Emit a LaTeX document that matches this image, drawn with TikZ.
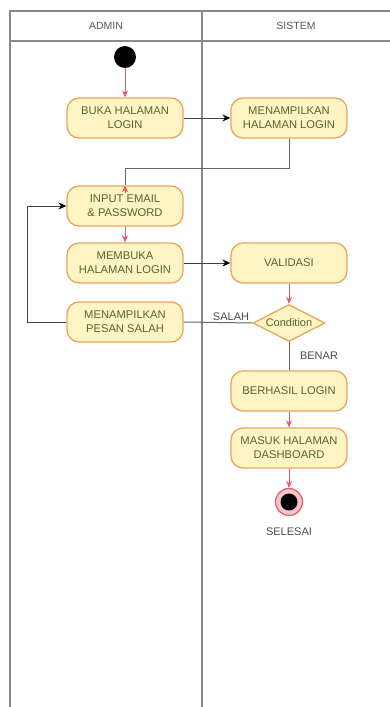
\documentclass[tikz,border=0pt]{standalone}
\usepackage{fontspec}
\setmainfont{Liberation Sans}
\usetikzlibrary{arrows.meta,shapes.geometric}
\definecolor{boxfill}{HTML}{FFF4C4}
\definecolor{boxline}{HTML}{E8A65C}
\definecolor{boxtext}{HTML}{56662A}
\definecolor{flowred}{HTML}{E25A66}
\definecolor{lanegray}{HTML}{8A8A8A}
\tikzset{
    activity/.style={draw=boxline, fill=boxfill, line width=1.3pt, rounded corners=12pt,
        minimum width=116pt, minimum height=40pt, align=center, text=boxtext,
        font=\fontsize{11.2}{14}\selectfont},
    decision/.style={diamond, aspect=1.95, draw=boxline, fill=boxfill, line width=1.3pt,
        minimum width=72pt, minimum height=37pt, inner sep=1pt, text=boxtext,
        font=\fontsize{11}{12}\selectfont},
    lanelabel/.style={text=black!65, font=\fontsize{10.5}{12}\selectfont},
    guard/.style={text=black!70, font=\fontsize{11}{12}\selectfont},
    redflow/.style={draw=flowred, line width=1pt, -{Stealth[length=7pt,width=6pt]}},
    darkflow/.style={draw=black!75, line width=1pt, -{Stealth[length=8pt,width=7pt,color=black]}},
    plainflow/.style={draw=black!60, line width=1pt}
}
\begin{document}
\begin{tikzpicture}[x=1pt, y=-1pt]
    \useasboundingbox (0, 0) rectangle (390, 707);
    % swimlanes
    \draw[lanegray, line width=1.8pt] (390, 11) -- (10, 11) -- (10, 707);
    \draw[lanegray, line width=1.8pt] (10, 41) -- (390, 41);
    \draw[lanegray, line width=1.8pt] (202, 11) -- (202, 707);
    \node[lanelabel] (admin) at (106, 26) {ADMIN};
    \node[lanelabel] (sistem) at (296, 26) {SISTEM};

    \node[circle, fill=black, minimum size=22pt, inner sep=0pt] (start) at (125, 57) {};
    \node[activity] (buka) at (125, 118) {BUKA HALAMAN\\LOGIN};
    \node[activity] (tampil) at (289, 118) {MENAMPILKAN\\HALAMAN LOGIN};
    \node[activity] (input) at (125, 206) {INPUT EMAIL\\\& PASSWORD};
    \node[activity] (membuka) at (125, 263) {MEMBUKA\\HALAMAN LOGIN};
    \node[activity] (validasi) at (289, 263) {VALIDASI};
    \node[activity] (pesan) at (125, 322) {MENAMPILKAN\\PESAN SALAH};
    \node[decision] (cond) at (289, 323) {Condition};
    \node[activity] (berhasil) at (289, 391) {BERHASIL LOGIN};
    \node[activity] (masuk) at (289, 448) {MASUK HALAMAN\\DASHBOARD};
    \node[circle, draw=flowred, fill=flowred!35, line width=1.2pt, minimum size=27pt, inner sep=0pt] (selesai) at (289, 502) {};
    \fill[black] (selesai.center) circle (8.5pt);
    \node[guard] (selesailabel) at (289, 532) {SELESAI};
    \node[guard] (salahlabel) at (231, 317) {SALAH};
    \node[guard] (benarlabel) at (319, 356) {BENAR};

    \draw[redflow] (start) -- (buka);
    \draw[darkflow] (buka) -- (tampil);
    \draw[plainflow] (tampil.south) -- ++(0, 30) -| (input.north);
    \draw[redflow] ([yshift=-8pt]input.north) -- (input.north);
    \draw[redflow] (input) -- (membuka);
    \draw[darkflow] (membuka) -- (validasi);
    \draw[redflow] (validasi) -- (cond);
    \draw[plainflow] (cond.west) -- (pesan.east);
    \draw[darkflow] (pesan.west) -- ++(-39, 0) |- (input.west);
    \draw[plainflow] (cond.south) -- (berhasil.north);
    \draw[redflow] (berhasil) -- (masuk);
    \draw[redflow] (masuk) -- (selesai);
\end{tikzpicture}
\end{document}
